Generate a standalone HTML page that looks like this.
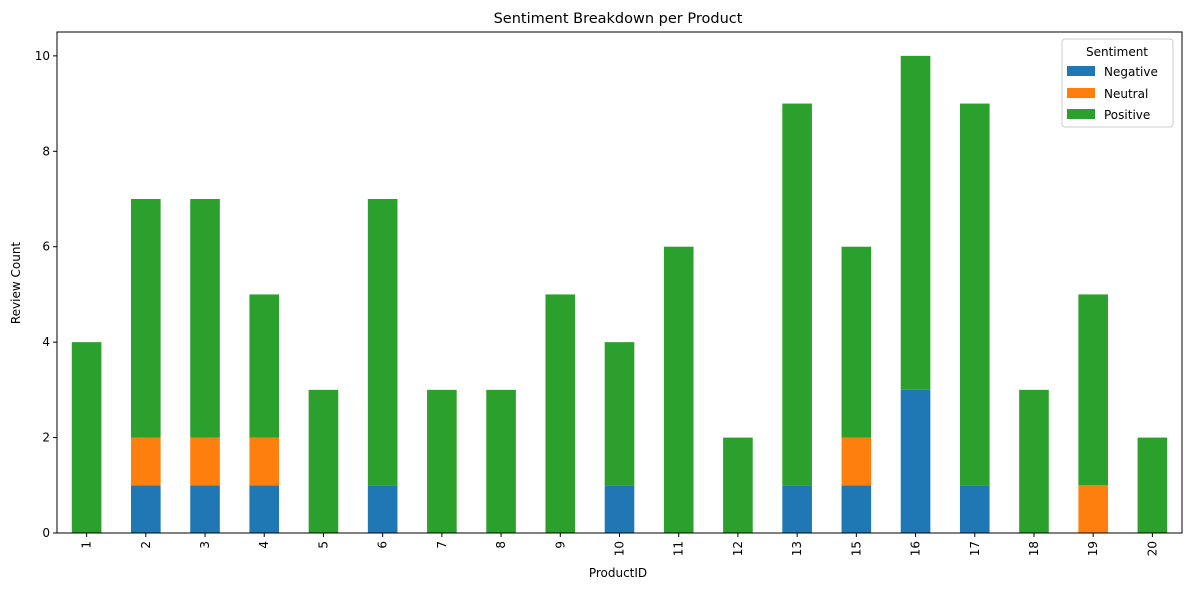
<!DOCTYPE html>
<html><head><meta charset="utf-8"><style>
body{margin:0;background:#fff;font-family:"Liberation Sans","DejaVu Sans",sans-serif;}
svg text{font-family:"DejaVu Sans","Liberation Sans",sans-serif;}
</style></head><body>
<svg id="chart" width="1189" height="590" xmlns="http://www.w3.org/2000/svg">
<text x="618" y="23" font-size="14.5" text-anchor="middle" fill="#000">Sentiment Breakdown per Product</text>
<g id="bars"></g>
<g id="axes"></g>
<text x="618" y="577" font-size="12" text-anchor="middle">ProductID</text>
<text transform="translate(20,283) rotate(-90)" font-size="12" text-anchor="middle">Review Count</text>
<g>
<rect x="1062" y="39" width="111" height="88" fill="#fff" stroke="#ccc" rx="3"/>
<text x="1117" y="56" font-size="12" text-anchor="middle">Sentiment</text>
<rect x="1067" y="66" width="28" height="10" fill="#1f77b4"/>
<text x="1104" y="76" font-size="12">Negative</text>
<rect x="1067" y="88" width="28" height="10" fill="#ff7f0e"/>
<text x="1104" y="98" font-size="12">Neutral</text>
<rect x="1067" y="109" width="28" height="10" fill="#2ca02c"/>
<text x="1104" y="119" font-size="12">Positive</text>
</g>
</svg>
<script>
const categories=["1","2","3","4","5","6","7","8","9","10","11","12","13","15","16","17","18","19","20"];
const negative=[0,1,1,1,0,1,0,0,0,1,0,0,1,1,3,1,0,0,0];
const neutral=[0,1,1,1,0,0,0,0,0,0,0,0,0,1,0,0,0,1,0];
const positive=[4,5,5,3,3,6,3,3,5,3,6,2,8,4,7,8,3,4,2];
const yTicks=[0,2,4,6,8,10];
const L=57,R=1182,T=32,B=533,yMax=10.5;
const n=categories.length,step=(R-L)/n;
const xC=i=>L+step*(i+0.5);
const y=v=>B-(v/yMax)*(B-T);
const NS="http://www.w3.org/2000/svg";
const bars=document.getElementById('bars'),axes=document.getElementById('axes');
function mk(tag,attrs,parent){const e=document.createElementNS(NS,tag);for(const k in attrs)e.setAttribute(k,attrs[k]);parent.appendChild(e);return e;}
const series=[[negative,'#1f77b4','negative'],[neutral,'#ff7f0e','neutral'],[positive,'#2ca02c','positive']];
categories.forEach((c,i)=>{
  let base=0;const w=step*0.5;
  series.forEach(([arr,col,nm])=>{
    const v=arr[i];
    if(v>0){
      const r=mk('rect',{x:xC(i)-w/2,y:y(base+v),width:w,height:y(base)-y(base+v),fill:col},bars);
      
      
    }
    base+=v;
  });
  mk('line',{x1:xC(i),x2:xC(i),y1:B,y2:B+4,stroke:'#000'},axes);
  const t=mk('text',{transform:`translate(${xC(i)+4},${B+8}) rotate(-90)`,'font-size':12,'text-anchor':'end'},axes);
  
  
  t.textContent=c;
});
yTicks.forEach(v=>{
  mk('line',{x1:L-4,x2:L,y1:y(v),y2:y(v),stroke:'#000'},axes);
  const t=mk('text',{x:L-7,y:y(v)+4,'font-size':12,'text-anchor':'end'},axes);
  
  
  t.textContent=v;
});
const fr=mk('rect',{x:L,y:T,width:R-L,height:B-T,fill:'none',stroke:'#000','stroke-width':1},axes);


</script>
</body></html>
